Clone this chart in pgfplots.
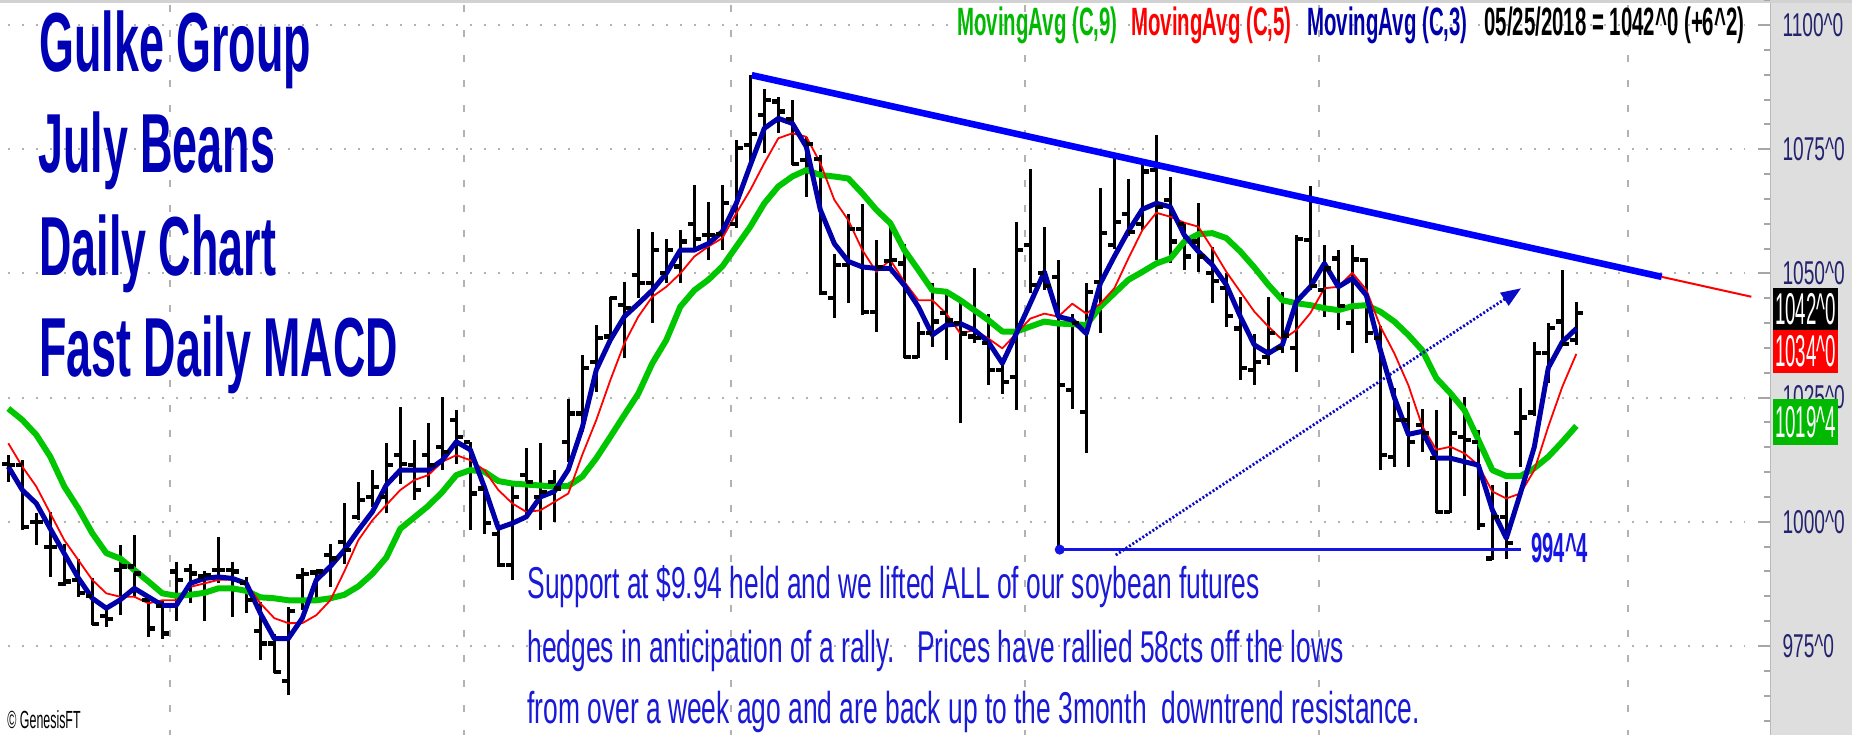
\documentclass[border=0pt]{standalone}
\usepackage{fontspec}
\setmainfont{Liberation Sans}
\usepackage{pgfplots}
\pgfplotsset{compat=1.18}
\usepackage{pgfplotstable}
\usetikzlibrary{arrows.meta}

% condensed faces, squeezed to the chart's narrow lettering
\newfontfamily\ttlfont[FakeStretch=0.535]{Liberation Sans}
\newfontfamily\legfont[FakeStretch=0.517]{Liberation Sans}
\newfontfamily\notefont[FakeStretch=0.592]{Liberation Sans}
\newfontfamily\axfont[FakeStretch=0.58]{Liberation Sans}
\newfontfamily\boxfont[FakeStretch=0.42]{Liberation Sans}
\newfontfamily\lowfont[FakeStretch=0.48]{Liberation Sans}
\newfontfamily\credfont[FakeStretch=0.5]{Liberation Sans}

\definecolor{ttlblue}{RGB}{0,0,180}
\definecolor{noteblue}{RGB}{25,25,215}
\definecolor{ma3blue}{RGB}{0,0,170}
\definecolor{magreen}{RGB}{0,198,0}
\definecolor{leggreen}{RGB}{0,185,0}
\definecolor{trendblue}{RGB}{0,0,255}
\definecolor{axnavy}{RGB}{35,35,110}
\definecolor{gridgray}{RGB}{178,178,178}
\definecolor{panelgray}{RGB}{222,222,222}
\definecolor{lowblue}{RGB}{20,20,230}
\definecolor{arrowblue}{RGB}{10,10,200}

% left tick = open, right tick = close
\pgfdeclareplotmark{otick}{\pgfpathmoveto{\pgfqpoint{-3.1pt}{0pt}}\pgfpathlineto{\pgfqpoint{0pt}{0pt}}\pgfusepathqstroke}
\pgfdeclareplotmark{ctick}{\pgfpathmoveto{\pgfqpoint{0pt}{0pt}}\pgfpathlineto{\pgfqpoint{3.1pt}{0pt}}\pgfusepathqstroke}

% daily bars, July soybeans
\pgfplotstableread{
i open high low close
0 1011.7 1013.4 1008.1 1011.5
1 1011.5 1012.4 998.3 999.0
2 1000.0 1001.7 995.3 1000.0
3 995.0 1002.0 988.9 995.0
4 987.5 995.6 987.0 988.0
5 988.3 992.6 984.9 985.6
6 985.0 988.6 979.2 979.5
7 981.0 983.0 978.9 980.5
8 990.3 995.3 981.2 991.0
9 991.0 997.3 984.9 989.6
10 984.3 985.0 976.9 978.5
11 983.0 984.3 976.5 977.5
12 990.0 992.0 980.0 988.3
13 990.3 991.6 983.6 989.6
14 989.0 990.0 980.0 989.3
15 990.3 997.0 987.6 990.3
16 990.3 992.0 980.9 990.0
17 987.6 988.9 981.6 984.2
18 978.0 983.9 972.2 975.5
19 975.5 977.5 969.5 969.8
20 968.0 982.9 965.1 982.0
21 989.0 990.6 982.2 989.5
22 989.8 990.3 984.2 990.0
23 993.3 995.6 986.9 992.6
24 996.0 1003.7 991.6 994.3
25 1001.0 1008.0 1000.3 1004.4
26 1005.0 1010.4 1003.0 1007.0
27 1005.0 1015.8 1001.7 1011.4
28 1013.4 1023.2 1007.7 1011.7
29 1011.4 1016.4 1004.4 1006.4
30 1013.4 1019.8 1007.0 1011.4
31 1015.0 1025.2 1010.4 1014.1
32 1020.5 1022.5 1011.7 1017.1
33 1016.0 1016.1 998.3 1005.7
34 1006.7 1007.0 997.6 999.7
35 997.6 998.3 990.9 991.3
36 991.3 1007.7 988.3 1005.0
37 1009.4 1014.8 1001.0 1008.0
38 1005.0 1015.8 998.3 1006.0
39 1008.0 1010.4 1000.0 1006.7
40 1016.0 1024.8 1012.0 1021.8
41 1021.8 1033.6 1018.0 1030.9
42 1032.1 1039.6 1026.2 1037.0
43 1037.3 1045.3 1035.9 1045.0
44 1043.6 1048.3 1032.9 1043.0
45 1049.7 1059.0 1045.0 1048.0
46 1048.0 1058.4 1040.0 1054.7
47 1050.0 1057.0 1048.0 1054.7
48 1051.4 1058.7 1048.0 1056.4
49 1060.0 1067.8 1054.7 1057.0
50 1057.7 1064.4 1052.7 1057.7
51 1058.0 1067.8 1054.7 1064.1
52 1060.0 1076.8 1059.1 1075.2
53 1075.8 1089.9 1071.5 1078.0
54 1081.9 1087.2 1074.2 1084.9
55 1084.6 1085.6 1078.2 1082.6
56 1081.0 1084.9 1071.8 1072.0
57 1072.8 1077.5 1065.4 1076.0
58 1073.0 1073.8 1045.6 1046.0
59 1045.0 1054.0 1041.0 1051.7
60 1051.7 1062.0 1044.0 1059.0
61 1059.0 1064.0 1041.6 1042.3
62 1042.3 1056.7 1038.3 1051.3
63 1052.5 1059.5 1050.5 1052.7
64 1052.0 1056.0 1032.9 1033.2
65 1033.2 1040.3 1032.9 1038.0
66 1038.0 1048.0 1035.2 1040.3
67 1042.0 1046.0 1032.6 1040.5
68 1040.0 1044.0 1019.8 1037.9
69 1037.3 1051.0 1035.9 1037.0
70 1036.0 1041.9 1027.5 1030.5
71 1030.5 1031.9 1025.8 1028.2
72 1029.2 1060.4 1022.5 1054.7
73 1055.7 1071.1 1046.0 1047.6
74 1050.0 1059.4 1046.6 1047.5
75 1049.3 1052.7 994.4 1027.5
76 1026.5 1041.9 1022.8 1040.0
77 1022.1 1048.0 1013.8 1046.3
78 1048.3 1067.1 1038.0 1058.1
79 1055.7 1073.2 1055.0 1060.4
80 1062.0 1069.1 1057.5 1058.4
81 1060.0 1072.2 1058.7 1070.5
82 1070.8 1077.8 1052.7 1063.3
83 1064.8 1069.4 1052.0 1056.4
84 1060.0 1060.1 1050.7 1053.4
85 1056.4 1064.1 1050.3 1053.4
86 1050.0 1055.4 1044.0 1048.5
87 1047.0 1050.0 1039.3 1041.5
88 1038.9 1045.3 1028.5 1031.0
89 1030.5 1037.9 1027.5 1032.2
90 1033.2 1045.3 1031.6 1038.0
91 1035.0 1046.3 1033.9 1037.5
92 1035.0 1057.7 1030.2 1057.0
93 1056.7 1067.5 1046.6 1047.5
94 1046.7 1055.7 1041.3 1051.0
95 1053.0 1054.7 1038.6 1043.5
96 1040.0 1055.7 1033.9 1052.8
97 1052.7 1053.0 1035.9 1038.0
98 1037.0 1039.5 1010.4 1013.4
99 1013.1 1027.0 1011.1 1020.5
100 1020.5 1024.2 1011.1 1016.1
101 1019.5 1022.8 1014.1 1017.8
102 1012.8 1022.5 1001.7 1002.0
103 1002.0 1026.2 1001.7 1017.8
104 1017.1 1025.2 1005.1 1016.5
105 1016.0 1018.5 998.3 999.4
106 992.6 1007.4 992.3 1001.0
107 1001.0 1008.1 992.6 995.7
108 1017.8 1026.9 1011.1 1021.0
109 1022.0 1036.2 1021.2 1033.9
110 1034.0 1040.0 1028.0 1039.0
111 1040.3 1050.7 1035.5 1035.8
112 1036.6 1044.3 1035.5 1042.0
}\bars

% moving averages as drawn on the chart
\pgfplotstableread{
i ma3 ma5 ma9
0 1011.1 1015.8 1022.8
1 1006.4 1011.1 1020.5
2 1003.7 1007.1 1017.5
3 998.6 1001.7 1013.1
4 993.6 996.3 1007.1
5 988.7 992.3 1002.7
6 984.6 988.3 997.7
7 982.6 985.6 993.7
8 984.3 984.9 992.6
9 986.6 984.9 990.3
10 984.9 983.6 988.0
11 983.2 984.2 985.6
12 983.2 984.2 985.1
13 987.6 986.9 985.3
14 988.6 987.6 985.7
15 988.9 988.3 986.6
16 988.6 988.4 986.6
17 987.6 987.6 986.1
18 981.6 983.6 984.8
19 976.5 980.6 984.6
20 976.5 979.6 984.2
21 980.6 979.6 984.2
22 988.3 981.2 984.2
23 991.0 984.2 984.6
24 994.3 990.0 985.3
25 998.3 996.3 987.0
26 1002.0 1000.3 989.5
27 1007.4 1003.4 992.8
28 1010.4 1006.4 998.6
29 1010.4 1008.4 1000.9
30 1010.4 1009.4 1003.2
31 1012.4 1012.1 1006.0
32 1016.1 1013.4 1009.4
33 1014.5 1012.4 1010.4
34 1007.0 1010.4 1010.1
35 998.7 1006.4 1008.2
36 999.7 1003.7 1007.7
37 1001.0 1002.0 1007.5
38 1005.0 1002.3 1007.3
39 1006.1 1004.0 1007.1
40 1010.5 1005.7 1007.2
41 1019.0 1013.5 1009.1
42 1030.6 1020.5 1012.8
43 1036.6 1028.5 1017.1
44 1041.3 1035.9 1021.5
45 1043.9 1041.3 1025.8
46 1046.6 1045.3 1031.9
47 1050.0 1047.3 1036.6
48 1054.7 1050.0 1043.3
49 1054.7 1053.4 1046.6
50 1056.0 1055.4 1048.7
51 1058.4 1057.1 1051.4
52 1064.1 1062.1 1055.4
53 1071.8 1066.8 1059.4
54 1079.2 1072.2 1064.1
55 1081.2 1077.2 1067.5
56 1080.2 1078.2 1069.5
57 1075.5 1077.5 1070.8
58 1062.8 1072.2 1069.8
59 1056.0 1064.8 1069.5
60 1052.4 1060.7 1069.1
61 1051.3 1054.7 1066.1
62 1051.0 1050.3 1062.8
63 1051.0 1052.7 1060.1
64 1047.6 1048.3 1054.7
65 1043.3 1044.6 1050.7
66 1037.6 1044.6 1046.6
67 1039.6 1041.9 1046.3
68 1039.9 1037.9 1044.6
69 1038.6 1038.6 1042.6
70 1036.2 1036.9 1040.6
71 1031.9 1034.9 1038.3
72 1037.9 1037.9 1038.3
73 1044.0 1040.9 1039.3
74 1050.3 1041.9 1040.3
75 1041.3 1041.3 1039.9
76 1040.6 1043.9 1039.8
77 1037.9 1041.9 1039.6
78 1048.0 1043.9 1043.3
79 1053.4 1047.0 1046.0
80 1058.5 1053.0 1048.7
81 1062.9 1058.7 1050.3
82 1064.1 1062.2 1052.0
83 1063.4 1061.4 1053.0
84 1057.7 1060.2 1056.4
85 1054.4 1059.4 1057.9
86 1051.7 1055.0 1058.1
87 1047.7 1050.3 1057.1
88 1041.3 1046.3 1054.4
89 1035.6 1042.3 1051.2
90 1033.9 1039.3 1047.7
91 1035.6 1036.6 1044.6
92 1044.3 1038.6 1044.0
93 1047.3 1042.0 1043.6
94 1052.0 1047.0 1043.0
95 1047.3 1047.3 1042.6
96 1049.0 1050.1 1043.4
97 1045.6 1046.7 1043.6
98 1034.6 1039.3 1042.3
99 1025.0 1033.9 1040.3
100 1017.6 1027.5 1037.6
101 1018.2 1019.2 1034.5
102 1012.8 1014.5 1028.9
103 1012.8 1015.1 1025.9
104 1012.1 1013.8 1022.5
105 1011.4 1011.4 1016.5
106 1002.4 1006.1 1010.4
107 996.7 1004.7 1009.2
108 1005.7 1005.7 1009.2
109 1015.1 1010.4 1010.8
110 1031.0 1019.2 1013.1
111 1036.2 1027.2 1016.1
112 1038.9 1033.8 1019.3
}\mas

\begin{document}
\begin{tikzpicture}
\fill[white] (0pt,-367.5pt) rectangle (926pt,0pt);
\begin{axis}[
    at={(0pt,0pt)}, anchor=north west,
    scale only axis, width=926pt, height=367.5pt,
    xmin=-0.593, xmax=131.69,
    ymin=957.08, ymax=1105.03,
    hide axis, clip=true,
  ]
  % price scale panel on the right
  \fill[panelgray] (axis cs:125.84,957.08) rectangle (axis cs:131.69,1105.03);
  \draw[gray!55, line width=0.6pt] (axis cs:125.84,957.08) -- (axis cs:125.84,1105.03);
  \fill[gray!35] (axis cs:-0.6,1105.03) rectangle (axis cs:131.69,1104.5);

  % grid
  \pgfplotsinvokeforeach{975,1000,1025,1050,1075,1100}{
    \draw[gridgray, line width=1pt, dash pattern=on 1pt off 6pt]
      (axis cs:-0.04,#1) -- (axis cs:124.05,#1);
    \draw[gray!70, line width=1pt] (axis cs:124.98,#1) -- (axis cs:125.84,#1);
    \node[anchor=west, inner sep=0pt, text=axnavy,
      font=\axfont\fontsize{16.5pt}{17pt}\selectfont]
      at (axis cs:126.7,#1) {#1\textasciicircum0};
  }
  \pgfplotsinvokeforeach{960,965,970,980,985,990,995,1005,1010,1015,1020,1030,1035,1040,1045,1055,1060,1065,1070,1080,1085,1090,1095,1105}{
    \draw[gray!70, line width=1pt] (axis cs:125.41,#1) -- (axis cs:125.84,#1);
  }
  \pgfplotsinvokeforeach{11.55,32.55,51.6,72.6,93.6,115.7}{
    \draw[gridgray, line width=1pt, dash pattern=on 3.5pt off 9pt]
      (axis cs:#1,1104) -- (axis cs:#1,957.08);
  }

  % OHLC bars
  \addplot[draw=none, mark=none, error bars/.cd, y dir=plus, y explicit,
    error mark=none, error bar style={draw=black, line width=1.6pt}]
    table[x=i, y=low, y error plus expr={\thisrow{high}-\thisrow{low}}] {\bars};
  \addplot[only marks, mark=otick, mark options={draw=black, line width=2.1pt}]
    table[x=i, y=open] {\bars};
  \addplot[only marks, mark=ctick, mark options={draw=black, line width=2.1pt}]
    table[x=i, y=close] {\bars};

  % moving averages
  \addplot[magreen, line width=3pt, line join=round, mark=none] table[x=i, y=ma9] {\mas};
  \addplot[red, line width=0.9pt, line join=round, mark=none] table[x=i, y=ma5] {\mas};
  \addplot[ma3blue, line width=2.5pt, line join=round, mark=none] table[x=i, y=ma3] {\mas};

  % downtrend resistance and its projection
  \addplot[trendblue, line width=3.3pt, mark=none] coordinates {(53.1,1089.9) (118.1,1049.3)};
  \addplot[red, line width=1pt, mark=none] coordinates {(118.1,1049.3) (124.5,1045.3)};

  % support at 994^4 and the projected rally
  \addplot[lowblue, line width=1.4pt, mark=none] coordinates {(75.1,994.4) (108.05,994.4)};
  \addplot[only marks, mark=*, mark size=2.3pt, mark options={fill=lowblue, draw=lowblue}]
    coordinates {(75.1,994.4)};
  \addplot[arrowblue, line width=1.4pt, dash pattern=on 1pt off 1pt, mark=none,
    -{Triangle[length=10pt, width=7.5pt]}] coordinates {(79.1,993.3) (108.05,1047)};

  % last values on the scale
  \fill[black] (axis cs:126.05,1047.06) rectangle (axis cs:130.69,1038.61);
  \node[text=white, inner sep=0pt, font=\boxfont\fontsize{22.3pt}{23pt}\selectfont]
    at (axis cs:128.37,1042.84) {1042\textasciicircum0};
  \fill[red] (axis cs:126.05,1038.61) rectangle (axis cs:130.69,1029.95);
  \node[text=white, inner sep=0pt, font=\boxfont\fontsize{22.3pt}{23pt}\selectfont]
    at (axis cs:128.37,1034.28) {1034\textasciicircum0};
  \fill[leggreen] (axis cs:126.05,1024.72) rectangle (axis cs:130.69,1015.46);
  \node[text=white, inner sep=0pt, font=\boxfont\fontsize{22.3pt}{23pt}\selectfont]
    at (axis cs:128.37,1020.09) {1019\textasciicircum4};
\end{axis}

% texts, placed in pixels of the 1852x735 chart
\begin{scope}[x=0.5pt, y=-0.5pt]
  \tikzset{ttl/.style={anchor=base west, inner sep=0pt, text=ttlblue,
      font=\ttlfont\bfseries\fontsize{41.9pt}{44pt}\selectfont},
    leg/.style={anchor=base west, inner sep=0pt,
      font=\legfont\bfseries\fontsize{19.75pt}{20pt}\selectfont},
    note/.style={anchor=base west, inner sep=0pt, text=noteblue,
      font=\notefont\fontsize{22.3pt}{24pt}\selectfont}}
  \node[ttl] at (39,71) {Gulke Group};
  \node[ttl] at (38,172) {July Beans};
  \node[ttl] at (39,275) {Daily Chart};
  \node[ttl] at (39,376) {Fast Daily MACD};

  \node[leg, text=leggreen] at (957,35) {MovingAvg (C,9)};
  \node[leg, text=red] at (1131,35) {MovingAvg (C,5)};
  \node[leg, text=ma3blue] at (1307,35) {MovingAvg (C,3)};
  \node[leg, text=black] at (1484,35) {05/25/2018 = 1042\textasciicircum0 (+6\textasciicircum2)};

  \node[note] at (527,598) {Support at \$9.94 held and we lifted ALL of our soybean futures};
  \node[note] at (527,662) {hedges in anticipation of a rally.\ \ \ Prices have rallied 58cts off the lows};
  \node[note] at (527,723) {from over a week ago and are back up to the 3month\ \ downtrend resistance.};

  \node[anchor=base west, inner sep=0pt, text=lowblue,
    font=\lowfont\bfseries\fontsize{21pt}{22pt}\selectfont] at (1531,562) {994\textasciicircum4};
  \node[anchor=base west, inner sep=0pt, text=black,
    font=\credfont\fontsize{12.4pt}{13pt}\selectfont] at (7,728) {\textcopyright\ GenesisFT};
\end{scope}
\pgfresetboundingbox
\path[use as bounding box] (0pt,-367.5pt) rectangle (926pt,0pt);
\end{tikzpicture}
\end{document}
